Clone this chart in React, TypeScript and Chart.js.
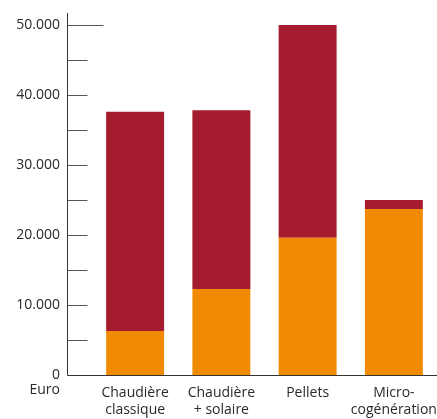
import React, { useEffect, useRef } from "react";
import { Chart, registerables } from "chart.js";

Chart.register(...registerables);

const categories: string[][] = [
  ["Chaudière", "classique"],
  ["Chaudière", "+ solaire"],
  ["Pellets"],
  ["Micro-", "cogénération"],
];
const orangeValues = [6300, 12300, 19600, 23700];
const redValues = [31300, 25500, 30400, 1300];
const yTickValues = [0, 10000, 20000, 30000, 40000, 50000];
const minorTickValues = [0, 5000, 10000, 15000, 20000, 25000, 30000, 35000, 40000, 45000, 50000];
const yUnitLabel = "Euro";

const RED = "#a51c2e";
const ORANGE = "#f08a00";
const TEXT = "#2a2a2a";
const FONT = "'Open Sans', sans-serif";

const axisPlugin = {
  id: "customAxis",
  afterDraw(chart: any) {
    const ctx = chart.ctx;
    const area = chart.chartArea;
    const y = chart.scales.y;
    const axisX = Math.round(area.left - 25) + 0.5;
    const zeroY = Math.round(y.getPixelForValue(0)) + 0.5;
    ctx.save();
    ctx.strokeStyle = "#333";
    ctx.lineWidth = 1;
    ctx.beginPath();
    ctx.moveTo(axisX, area.top);
    ctx.lineTo(axisX, zeroY);
    ctx.lineTo(chart.width, zeroY);
    ctx.stroke();
    ctx.strokeStyle = "#555";
    for (const v of minorTickValues) {
      if (v === 0) continue;
      const py = Math.round(y.getPixelForValue(v)) + 0.5;
      const len = v === 50000 ? 36 : 20;
      ctx.beginPath();
      ctx.moveTo(axisX, py);
      ctx.lineTo(axisX + len, py);
      ctx.stroke();
    }
    ctx.fillStyle = TEXT;
    ctx.font = `14px ${FONT}`;
    ctx.textAlign = "right";
    ctx.textBaseline = "middle";
    ctx.fillText(yUnitLabel, area.left - 32, zeroY + 15);
    ctx.restore();
  },
};

export default function App() {
  const ref = useRef<HTMLCanvasElement>(null);
  useEffect(() => {
    if (!ref.current) return;
    const chart = new Chart(ref.current, {
      type: "bar",
      data: {
        labels: categories,
        datasets: [
          { label: "a", data: orangeValues, backgroundColor: ORANGE },
          { label: "b", data: redValues, backgroundColor: RED },
        ],
      },
      options: {
        animation: false,
        responsive: true,
        maintainAspectRatio: false,
        layout: { padding: { top: 13, right: 0, left: 0, bottom: 0 } },
        plugins: { legend: { display: false }, tooltip: { enabled: false } },
        datasets: { bar: { barPercentage: 0.672, categoryPercentage: 1 } },
        scales: {
          x: {
            stacked: true,
            offset: true,
            grid: { display: false, drawTicks: false },
            border: { display: false },
            ticks: {
              color: TEXT,
              font: { family: FONT, size: 14, lineHeight: 1.2 },
              padding: 10,
              maxRotation: 0,
              autoSkip: false,
            },
            afterFit: (s: any) => {
              s.height = 44;
              s.paddingLeft = 0;
              s.paddingRight = 0;
            },
          },
          y: {
            stacked: true,
            min: 0,
            max: 51700,
            grid: { display: false, drawTicks: false },
            border: { display: false },
            afterBuildTicks: (s: any) => {
              s.ticks = yTickValues.map((v) => ({ value: v }));
            },
            ticks: {
              color: TEXT,
              font: { family: FONT, size: 14 },
              padding: 32,
              callback: (v: any) => Number(v).toLocaleString("de-DE"),
            },
            afterFit: (s: any) => {
              s.width = 92;
              s.paddingTop = 0;
              s.paddingBottom = 0;
            },
          },
        },
      },
      plugins: [axisPlugin],
    });
    return () => chart.destroy();
  }, []);
  return (
    <div style={{ position: "fixed", left: 0, top: 0, width: 437, height: 419, background: "#fff" }}>
      <canvas ref={ref} />
    </div>
  );
}
